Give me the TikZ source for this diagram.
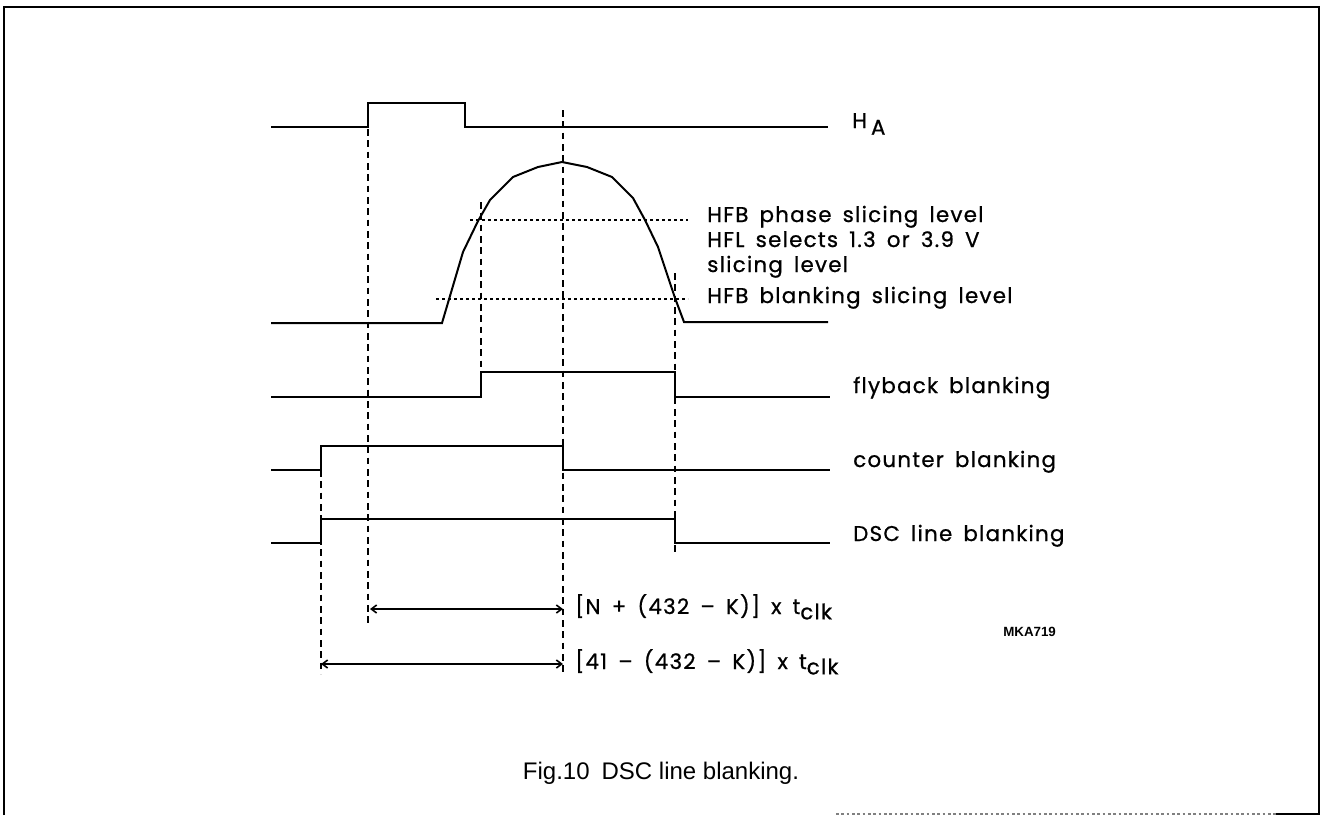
\documentclass[tikz,border=0pt]{standalone}
\usepackage{fontspec}
\setmainfont{Liberation Sans}
\newfontfamily\sigfont[LetterSpace=6,WordSpace=1.6,FakeBold=0.8]{Poppins}
\usetikzlibrary{arrows.meta}
\begin{document}
\begin{tikzpicture}[x=0.75pt,y=-0.75pt,
  sig/.style={line width=1.5pt, line join=miter},
  guide/.style={line width=1.5pt, dash pattern=on 5pt off 3.5pt},
  level/.style={line width=0.9pt, dash pattern=on 2.5pt off 2pt},
  lbl/.style={anchor=base west, inner sep=0pt, font=\sigfont\fontsize{16}{18}\selectfont},
  dimline/.style={line width=1.2pt, {Straight Barb[length=4pt,width=6pt]}-{Straight Barb[length=4pt,width=6pt]}},
]
\useasboundingbox (0,0) rectangle (1325,815);
% frame
\draw[line width=1.6pt] (4,815) -- (4,7) -- (1319,7) -- (1319,815);
\draw[line width=1.6pt] (1276,814) -- (1319,814);
\draw[gray, line width=0.8pt, dash pattern=on 2pt off 2pt] (836,814) -- (1276,814);

% signals
\draw[sig] (271,127) -- (368,127) -- (368,103) -- (465,103) -- (465,127) -- (828,127);
\draw[sig] (271,323) -- (442,323) -- (463,252) -- (478,221) -- (490,200) -- (513,177) -- (538,167) -- (562,162) -- (587,167) -- (612,177) -- (633,198) -- (645,220) -- (658,247) -- (675,298) -- (684,322) -- (828,322);
\draw[sig] (271,397) -- (481,397) -- (481,372) -- (675,372) -- (675,397) -- (830,397);
\draw[sig] (271,470) -- (321,470) -- (321,446) -- (563,446) -- (563,470) -- (830,470);
\draw[sig] (271,543) -- (321,543) -- (321,519) -- (675,519) -- (675,543) -- (830,543);

% guide lines
\draw[guide] (368,129) -- (368,625);
\draw[guide] (563,110) -- (563,674);
\draw[guide] (481,202) -- (481,370);
\draw[guide] (675,273) -- (675,552);
\draw[guide] (321,470) -- (321,674);

% slicing levels
\draw[level] (470,220) -- (688,220);
\draw[level] (436,299) -- (688,299);

% labels
\node[lbl] (ha) at (852,128) {H\hspace{3pt}\raisebox{-5pt}{A}};
\node[lbl] (phase) at (707,222) {HFB phase slicing level};
\node[lbl] (hfl) at (707,247) {HFL selects 1.3 or 3.9 V};
\node[lbl] (sl) at (707,272) {slicing level};
\node[lbl] (blk) at (707,303) {HFB blanking slicing level};
\node[lbl] (fly) at (853,393) {flyback blanking};
\node[lbl] (cnt) at (853,467) {counter blanking};
\node[lbl] (dsc) at (853,541) {DSC line blanking};

% dimension arrows
\coordinate (a1) at (370,609);
\coordinate (a2) at (563,609);
\coordinate (b1) at (321,664);
\coordinate (b2) at (563,664);
\draw[dimline] (a1) -- (a2);
\draw[dimline] (b1) -- (b2);
\node[lbl] (d1) at (575,614) {[N + (432 – K)] x t\raisebox{-4pt}{clk}};
\node[lbl] (d2) at (575,669) {[41 – (432 – K)] x t\raisebox{-4pt}{clk}};

\node[anchor=base west, inner sep=0pt, font=\bfseries\fontsize{10}{12}\selectfont] (code) at (1003,636) {MKA719};
\node[anchor=base, inner sep=0pt, font=\fontsize{18}{20}\selectfont] (cap) at (661,779) {Fig.10\hspace{0.5em}DSC line blanking.};
\end{tikzpicture}
\end{document}
